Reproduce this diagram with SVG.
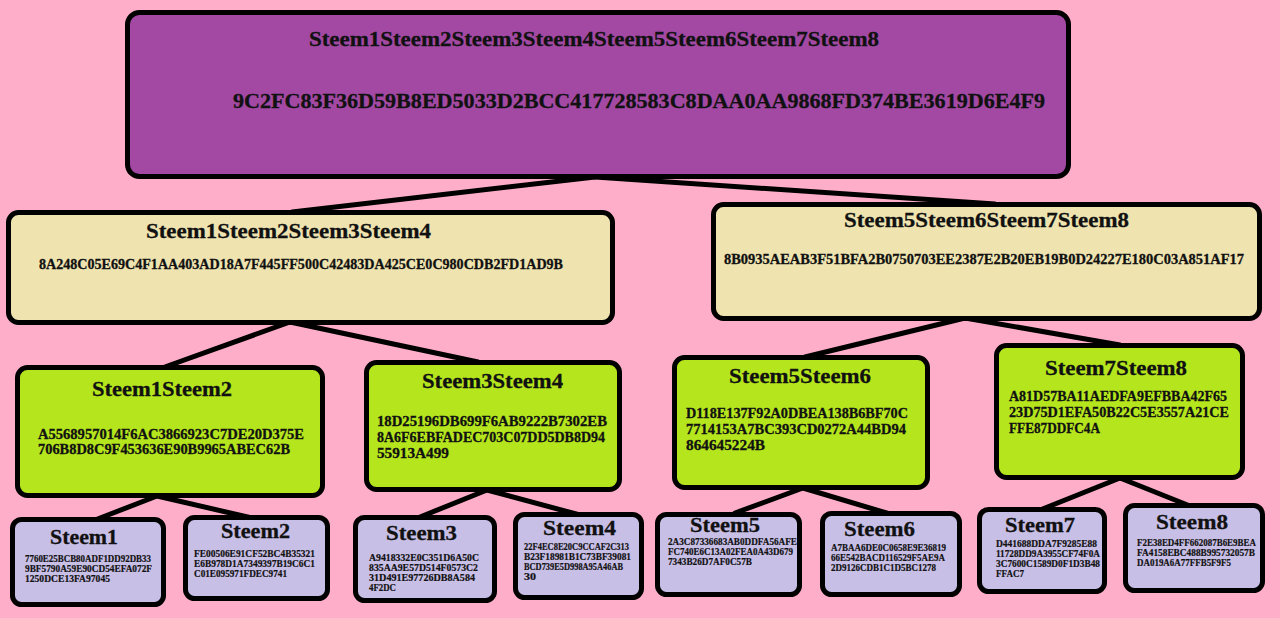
<svg xmlns="http://www.w3.org/2000/svg" width="1280" height="618" viewBox="0 0 1280 618">
<style>
.bx{stroke:#000;stroke-width:5}
.top{fill:#A349A4}
.l2{fill:#EFE4B0}
.l3{fill:#B5E61D}
.lf{fill:#C8BFE7}
text{font-family:"Liberation Serif","DejaVu Serif",serif;font-weight:bold;fill:#111;stroke:#111;stroke-width:0.3}
.t20{font-size:20px}
.t21{font-size:21px}
.t19{font-size:20px}
.h14{font-size:14.5px}
.h10{font-size:10px;stroke-width:0.2}
.cn line{stroke:#000;stroke-width:5;stroke-linecap:round}
</style>
<rect width="1280" height="618" fill="#FFAEC9"/>
<g id="connectors" class="cn">
<line x1="595" y1="177" x2="292" y2="212"/>
<line x1="595" y1="177" x2="995" y2="204"/>
<line x1="290" y1="322" x2="162" y2="368"/>
<line x1="290" y1="322" x2="478" y2="362"/>
<line x1="965" y1="318" x2="805" y2="357"/>
<line x1="965" y1="318" x2="1120" y2="345"/>
<line x1="157" y1="496" x2="95" y2="520"/>
<line x1="157" y1="496" x2="252" y2="518"/>
<line x1="487" y1="490" x2="420" y2="517"/>
<line x1="487" y1="490" x2="580" y2="515"/>
<line x1="803" y1="488" x2="735" y2="513"/>
<line x1="803" y1="488" x2="890" y2="514"/>
<line x1="1120" y1="478" x2="1040" y2="510"/>
<line x1="1120" y1="478" x2="1190" y2="506"/>
</g>
<g id="root">
<rect class="bx top" x="127.5" y="12.5" width="941" height="164" rx="12"/>
<text class="t20" x="309" y="46" textLength="570" lengthAdjust="spacingAndGlyphs">Steem1Steem2Steem3Steem4Steem5Steem6Steem7Steem8</text>
<text class="t21" x="233" y="108" textLength="812" lengthAdjust="spacingAndGlyphs">9C2FC83F36D59B8ED5033D2BCC417728583C8DAA0AA9868FD374BE3619D6E4F9</text>
</g>
<g id="n1234">
<rect class="bx l2" x="8.5" y="212.5" width="604" height="110" rx="10"/>
<text class="t21" x="146" y="238" textLength="285" lengthAdjust="spacingAndGlyphs">Steem1Steem2Steem3Steem4</text>
<text class="h14" x="39" y="269" textLength="524" lengthAdjust="spacingAndGlyphs">8A248C05E69C4F1AA403AD18A7F445FF500C42483DA425CE0C980CDB2FD1AD9B</text>
</g>
<g id="n5678">
<rect class="bx l2" x="713.5" y="204.5" width="546" height="114" rx="10"/>
<text class="t21" x="844" y="227" textLength="285" lengthAdjust="spacingAndGlyphs">Steem5Steem6Steem7Steem8</text>
<text class="h14" x="724" y="264" textLength="520" lengthAdjust="spacingAndGlyphs">8B0935AEAB3F51BFA2B0750703EE2387E2B20EB19B0D24227E180C03A851AF17</text>
</g>
<g id="n12">
<rect class="bx l3" x="17.5" y="367.5" width="305" height="128" rx="10"/>
<text class="t19" x="92" y="396" textLength="140" lengthAdjust="spacingAndGlyphs">Steem1Steem2</text>
<text class="h14" x="38" y="439" textLength="266" lengthAdjust="spacingAndGlyphs">A5568957014F6AC3866923C7DE20D375E</text>
<text class="h14" x="38" y="454" textLength="252" lengthAdjust="spacingAndGlyphs">706B8D8C9F453636E90B9965ABEC62B</text>
</g>
<g id="n34">
<rect class="bx l3" x="366.5" y="362.5" width="253" height="127" rx="10"/>
<text class="t19" x="422" y="388" textLength="141" lengthAdjust="spacingAndGlyphs">Steem3Steem4</text>
<text class="h14" x="377" y="426" textLength="230" lengthAdjust="spacingAndGlyphs">18D25196DB699F6AB9222B7302EB</text>
<text class="h14" x="377" y="442" textLength="228" lengthAdjust="spacingAndGlyphs">8A6F6EBFADEC703C07DD5DB8D94</text>
<text class="h14" x="377" y="458" textLength="72" lengthAdjust="spacingAndGlyphs">55913A499</text>
</g>
<g id="n56">
<rect class="bx l3" x="674.5" y="357.5" width="253" height="130" rx="10"/>
<text class="t19" x="729" y="383" textLength="142" lengthAdjust="spacingAndGlyphs">Steem5Steem6</text>
<text class="h14" x="686" y="418" textLength="222" lengthAdjust="spacingAndGlyphs">D118E137F92A0DBEA138B6BF70C</text>
<text class="h14" x="686" y="434" textLength="220" lengthAdjust="spacingAndGlyphs">7714153A7BC393CD0272A44BD94</text>
<text class="h14" x="686" y="450" textLength="79" lengthAdjust="spacingAndGlyphs">864645224B</text>
</g>
<g id="n78">
<rect class="bx l3" x="996.5" y="345.5" width="246" height="132" rx="10"/>
<text class="t19" x="1045" y="375" textLength="142" lengthAdjust="spacingAndGlyphs">Steem7Steem8</text>
<text class="h14" x="1009" y="401" textLength="218" lengthAdjust="spacingAndGlyphs">A81D57BA11AEDFA9EFBBA42F65</text>
<text class="h14" x="1009" y="417" textLength="220" lengthAdjust="spacingAndGlyphs">23D75D1EFA50B22C5E3557A21CE</text>
<text class="h14" x="1009" y="433" textLength="91" lengthAdjust="spacingAndGlyphs">FFE87DDFC4A</text>
</g>
<g id="s1">
<rect class="bx lf" x="12.5" y="519.5" width="151" height="85" rx="9"/>
<text class="t19" x="50" y="544" textLength="68" lengthAdjust="spacingAndGlyphs">Steem1</text>
<text class="h10" x="25" y="562" textLength="126" lengthAdjust="spacingAndGlyphs">7760E25BCB80ADF1DD92DB33</text>
<text class="h10" x="25" y="572" textLength="127" lengthAdjust="spacingAndGlyphs">9BF5790A59E90CD54EFA072F</text>
<text class="h10" x="25" y="582" textLength="85" lengthAdjust="spacingAndGlyphs">1250DCE13FA97045</text>
</g>
<g id="s2">
<rect class="bx lf" x="185.5" y="517.5" width="142" height="81" rx="9"/>
<text class="t19" x="221" y="538" textLength="69" lengthAdjust="spacingAndGlyphs">Steem2</text>
<text class="h10" x="194" y="557" textLength="121" lengthAdjust="spacingAndGlyphs">FE00506E91CF52BC4B35321</text>
<text class="h10" x="194" y="567" textLength="121" lengthAdjust="spacingAndGlyphs">E6B978D1A7349397B19C6C1</text>
<text class="h10" x="194" y="577" textLength="93" lengthAdjust="spacingAndGlyphs">C01E095971FDEC9741</text>
</g>
<g id="s3">
<rect class="bx lf" x="355.5" y="517.5" width="139" height="83" rx="9"/>
<text class="t19" x="386" y="540" textLength="71" lengthAdjust="spacingAndGlyphs">Steem3</text>
<text class="h10" x="369" y="561" textLength="110" lengthAdjust="spacingAndGlyphs">A9418332E0C351D6A50C</text>
<text class="h10" x="369" y="571" textLength="109" lengthAdjust="spacingAndGlyphs">835AA9E57D514F0573C2</text>
<text class="h10" x="369" y="581" textLength="106" lengthAdjust="spacingAndGlyphs">31D491E97726DB8A584</text>
<text class="h10" x="369" y="591" textLength="27" lengthAdjust="spacingAndGlyphs">4F2DC</text>
</g>
<g id="s4">
<rect class="bx lf" x="515.5" y="514.5" width="126" height="83" rx="9"/>
<text class="t19" x="543" y="535" textLength="73" lengthAdjust="spacingAndGlyphs">Steem4</text>
<text class="h10" x="524" y="550" textLength="105" lengthAdjust="spacingAndGlyphs">22F4EC8E20C9CCAF2C313</text>
<text class="h10" x="524" y="560" textLength="107" lengthAdjust="spacingAndGlyphs">B23F18981B1C73BF39081</text>
<text class="h10" x="524" y="570" textLength="99" lengthAdjust="spacingAndGlyphs">BCD739E5D998A95A46AB</text>
<text class="h10" x="524" y="580" textLength="12" lengthAdjust="spacingAndGlyphs">30</text>
</g>
<g id="s5">
<rect class="bx lf" x="657.5" y="514.5" width="142" height="80" rx="9"/>
<text class="t19" x="690" y="532" textLength="70" lengthAdjust="spacingAndGlyphs">Steem5</text>
<text class="h10" x="668" y="545" textLength="129" lengthAdjust="spacingAndGlyphs">2A3C87336683AB0DDFA56AFE</text>
<text class="h10" x="668" y="555" textLength="125" lengthAdjust="spacingAndGlyphs">FC740E6C13A02FEA0A43D679</text>
<text class="h10" x="668" y="565" textLength="84" lengthAdjust="spacingAndGlyphs">7343B26D7AF0C57B</text>
</g>
<g id="s6">
<rect class="bx lf" x="822.5" y="513.5" width="137" height="81" rx="9"/>
<text class="t19" x="844" y="536" textLength="71" lengthAdjust="spacingAndGlyphs">Steem6</text>
<text class="h10" x="831" y="551" textLength="115" lengthAdjust="spacingAndGlyphs">A7BAA6DE0C0658E9E36819</text>
<text class="h10" x="831" y="561" textLength="114" lengthAdjust="spacingAndGlyphs">66E542BACD116529F5AE9A</text>
<text class="h10" x="831" y="571" textLength="105" lengthAdjust="spacingAndGlyphs">2D9126CDB1C1D5BC1278</text>
</g>
<g id="s7">
<rect class="bx lf" x="979.5" y="509.5" width="125" height="82" rx="9"/>
<text class="t19" x="1005" y="532" textLength="70" lengthAdjust="spacingAndGlyphs">Steem7</text>
<text class="h10" x="996" y="547" textLength="101" lengthAdjust="spacingAndGlyphs">D441688DDA7F9285E88</text>
<text class="h10" x="996" y="557" textLength="104" lengthAdjust="spacingAndGlyphs">11728DD9A3955CF74F0A</text>
<text class="h10" x="996" y="567" textLength="104" lengthAdjust="spacingAndGlyphs">3C7600C1589D0F1D3B48</text>
<text class="h10" x="996" y="577" textLength="28" lengthAdjust="spacingAndGlyphs">FFAC7</text>
</g>
<g id="s8">
<rect class="bx lf" x="1125.5" y="505.5" width="137" height="85" rx="9"/>
<text class="t19" x="1156" y="529" textLength="72" lengthAdjust="spacingAndGlyphs">Steem8</text>
<text class="h10" x="1137" y="546" textLength="119" lengthAdjust="spacingAndGlyphs">F2E38ED4FF662087B6E9BEA</text>
<text class="h10" x="1137" y="556" textLength="118" lengthAdjust="spacingAndGlyphs">FA4158EBC488B995732057B</text>
<text class="h10" x="1137" y="566" textLength="94" lengthAdjust="spacingAndGlyphs">DA019A6A77FFB5F9F5</text>
</g>
</svg>
